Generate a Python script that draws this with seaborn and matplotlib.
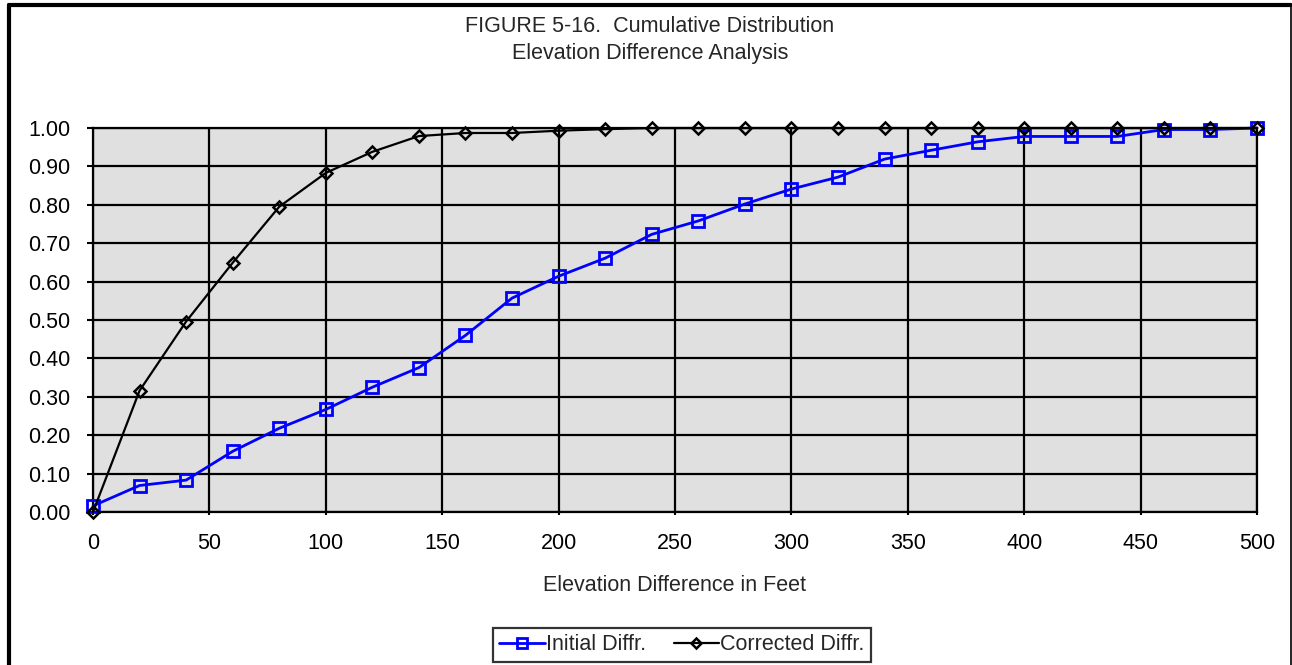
import numpy as np
import pandas as pd
import matplotlib
matplotlib.use("Agg")
import matplotlib.pyplot as plt
from matplotlib.lines import Line2D
import seaborn as sns

# ---- data ----
elevation_ft = [0, 20, 40, 60, 80, 100, 120, 140, 160, 180, 200, 220, 240,
                260, 280, 300, 320, 340, 360, 380, 400, 420, 440, 460, 480, 500]
initial_diffr = [0.016, 0.069, 0.083, 0.158, 0.218, 0.267, 0.325, 0.376, 0.460,
                 0.557, 0.614, 0.661, 0.723, 0.758, 0.802, 0.841, 0.872, 0.919,
                 0.942, 0.964, 0.978, 0.978, 0.978, 0.996, 0.996, 1.000]
corrected_diffr = [0.000, 0.316, 0.496, 0.649, 0.795, 0.883, 0.938, 0.979, 0.987,
                   0.987, 0.993, 0.997, 1.000, 1.000, 1.000, 1.000, 1.000, 1.000,
                   1.000, 1.000, 1.000, 1.000, 1.000, 1.000, 1.000, 1.000]
series_names = ["Initial Diffr.", "Corrected Diffr."]
x_ticks = [0, 50, 100, 150, 200, 250, 300, 350, 400, 450, 500]
y_ticks = [0.0, 0.1, 0.2, 0.3, 0.4, 0.5, 0.6, 0.7, 0.8, 0.9, 1.0]
title_lines = ["FIGURE 5-16.  Cumulative Distribution", "Elevation Difference Analysis"]
x_label = "Elevation Difference in Feet"

sns.set_theme(style="white")
plt.rcParams['font.family'] = ['Liberation Sans', 'DejaVu Sans']

FS = 15.5
W, H, DPI = 1292, 665, 100
fig = plt.figure(figsize=(W / DPI, H / DPI), dpi=DPI)
fig.patch.set_facecolor("white")

L, R, T, B = 93, 1257, 128, 512
ax = fig.add_axes([L / W, 1 - B / H, (R - L) / W, (B - T) / H])
ax.set_facecolor("#E0E0E0")

df_i = pd.DataFrame({"x": elevation_ft, "y": initial_diffr})
df_c = pd.DataFrame({"x": elevation_ft, "y": corrected_diffr})

sns.lineplot(data=df_i, x="x", y="y", ax=ax, color="#0000FF", linewidth=2.0,
             marker="s", markersize=8.5, markerfacecolor="none",
             markeredgecolor="#0000FF", markeredgewidth=2.0, label=series_names[0],
             zorder=4, clip_on=False)
sns.lineplot(data=df_c, x="x", y="y", ax=ax, color="black", linewidth=1.6,
             marker="D", markersize=6.5, markerfacecolor="none",
             markeredgecolor="black", markeredgewidth=1.8, label=series_names[1],
             zorder=5, clip_on=False)

ax.set_xlim(0, 500)
ax.set_ylim(0, 1.0)
ax.set_xticks(x_ticks)
ax.set_yticks(y_ticks)
ax.set_xticklabels([str(v) for v in x_ticks])
ax.set_yticklabels([f"{v:.2f}" for v in y_ticks])
ax.tick_params(axis="both", labelsize=FS, colors="black")
ax.tick_params(axis="y", direction="out", length=4.3, width=1.5, pad=12, left=True)
ax.tick_params(axis="x", direction="out", length=2.2, width=1.5, pad=13, bottom=True)
ax.grid(True, color="black", linewidth=1.6)
ax.set_axisbelow(True)
for s in ax.spines.values():
    s.set_color("black")
    s.set_linewidth(1.6)

ax.set_xlabel(x_label, fontsize=FS, labelpad=15)
ax.set_ylabel("")

fig.text(650 / W, 1 - 27 / H, title_lines[0], ha="center", va="center", fontsize=FS)
fig.text(650 / W, 1 - 54 / H, title_lines[1], ha="center", va="center", fontsize=FS)

ax.get_legend().remove()
handles = [Line2D([], [], color="#0000FF", linewidth=2.0, marker="s", markersize=7.5,
                  markerfacecolor="none", markeredgecolor="#0000FF", markeredgewidth=2.0),
           Line2D([], [], color="black", linewidth=1.6, marker="D", markersize=5.5,
                  markerfacecolor="none", markeredgecolor="black", markeredgewidth=1.8)]
leg = fig.legend(handles, series_names, loc="center", bbox_to_anchor=(682 / W, 1 - 645 / H),
                 ncol=2, frameon=True, fancybox=False, fontsize=FS, handlelength=2.1,
                 handletextpad=0.05, columnspacing=1.3, borderpad=0.3, borderaxespad=0)
leg.get_frame().set_edgecolor("black")
leg.get_frame().set_linewidth(1.6)

# chart border
def px_line(x0, y0, x1, y1, lw):
    fig.add_artist(Line2D([x0 / W, x1 / W], [1 - y0 / H, 1 - y1 / H], color="black",
                          linewidth=lw, transform=fig.transFigure))
px_line(9, 5, 1291, 5, 3.0)
px_line(9, 5, 9, 665, 3.0)
px_line(1291, 5, 1291, 665, 1.2)

fig.savefig("out.png", dpi=DPI, facecolor="white")
